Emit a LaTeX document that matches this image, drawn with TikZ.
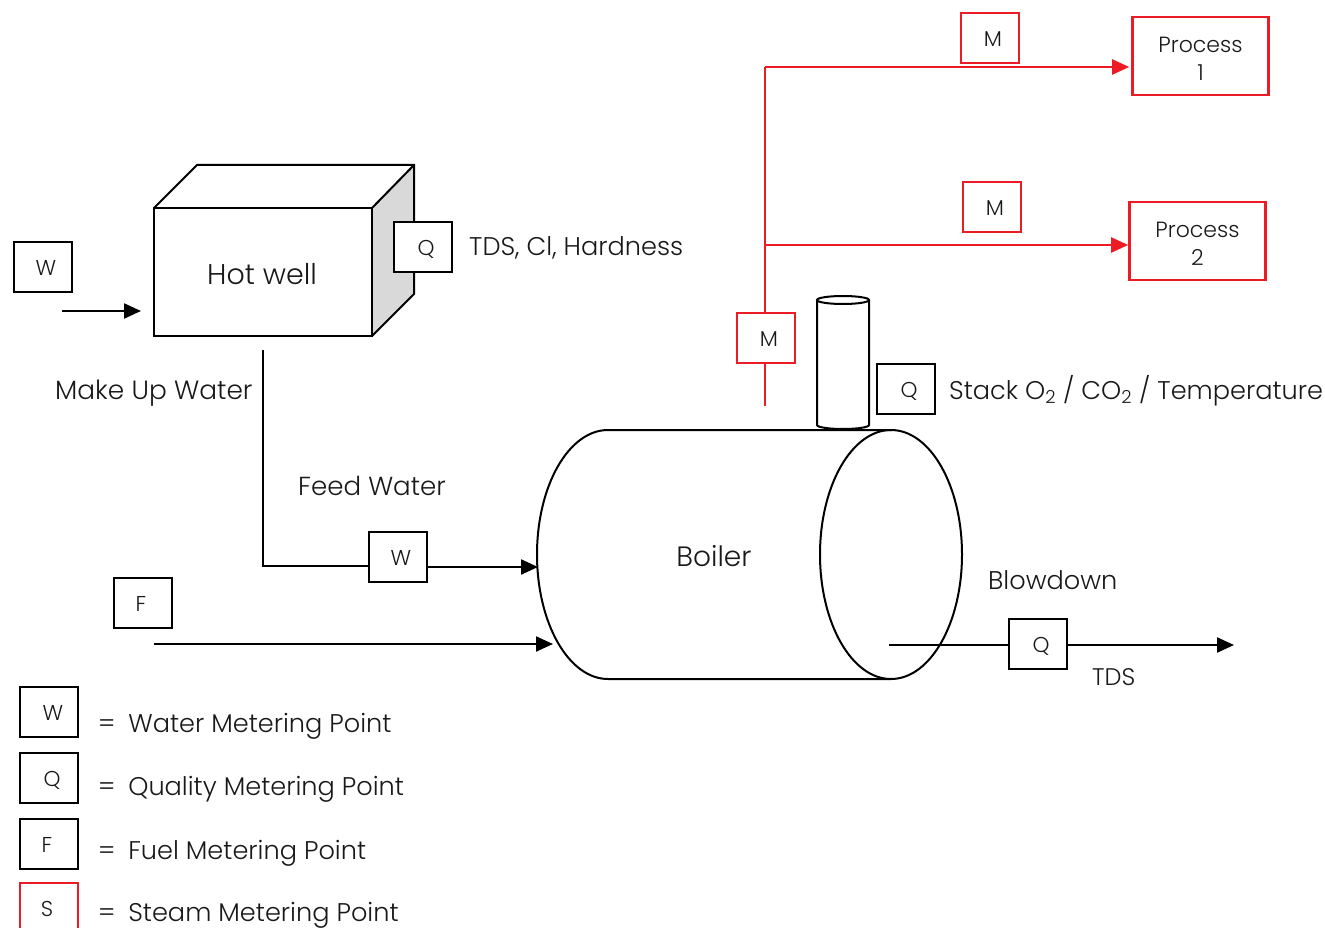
\documentclass[tikz,border=0pt]{standalone}
\usepackage{fontspec}
\setmainfont{Poppins Light}
\usetikzlibrary{positioning, arrows.meta, calc}
\definecolor{steamRed}{RGB}{237,28,36}
\definecolor{sideGrey}{RGB}{217,217,217}
\newcommand{\mpt}[2][3pt]{\raisebox{-8.5pt}[0pt][0pt]{\hspace{2\dimexpr#1\relax}#2}}
\newcommand{\prc}[1]{\raisebox{-3pt}[\height][\depth]{#1}}
\tikzset{
  every node/.style={font=\fontsize{25.6}{30}\selectfont, text=black!90},
  MP/.style={draw=black, line width=2pt, minimum width=58pt, minimum height=50pt, inner sep=0pt, font=\fontsize{21.5}{25}\selectfont},
  MPS/.style={MP, draw=steamRed},
  PROC/.style={draw=steamRed, line width=2.6pt, minimum width=136pt, minimum height=78pt, inner sep=0pt, align=center, font=\fontsize{22}{28}\selectfont},
  LBL/.style={anchor=west, inner sep=0pt},
  AR/.style={-{Triangle[length=17pt,width=15pt]}, line width=2.3pt, black},
  ARS/.style={AR, steamRed},
  SHP/.style={draw=black, line width=2pt},
}
\begin{document}
\begin{tikzpicture}[x=1pt, y=1pt, yscale=-1]
\useasboundingbox (0,0) rectangle (1325,928);

%% Hot well
\fill[sideGrey] (372,208)--(414,165)--(414,294)--(372,336)--cycle;
\draw[SHP] (154,208)--(197,165)--(414,165)--(414,294)--(372,336);
\draw[SHP] (372,208)--(414,165);
\node[SHP, minimum width=218pt, minimum height=128pt, inner sep=0pt] (HW) at (263,272) {};
\node[font=\fontsize{28.5}{32}\selectfont] at (262,274) {Hot well};
\node[MP, fill=white] (QH) at (423,247) {\mpt{Q}};
\node[LBL] (QHL) at (469,247.5) {TDS, Cl, Hardness};

\node[MP] (WM) at (43,267) {\mpt{W}};
\coordinate (WMa) at (62,311);
\coordinate (WMb) at (141,311);
\draw[AR] (WMa) -- (WMb);
\node[LBL, font=\fontsize{26.4}{30}\selectfont] (MUW) at (55,393) {Make Up Water};

%% Boiler
\coordinate (BoTL) at (608,430);
\coordinate (BoBR) at (891,679);
\draw[SHP] (891,430) -- (BoTL) arc[start angle=270, end angle=90, x radius=71, y radius=124.5] -- (BoBR);
\draw[SHP] (891,554.5) ellipse[x radius=71, y radius=124.5];
\node[font=\fontsize{28}{32}\selectfont] (BO) at (714,556) {Boiler};

%% Stack
\draw[SHP] (817,300) -- (817,425) arc[start angle=180, end angle=0, x radius=26, y radius=4] -- (869,300);
\draw[SHP] (843,300) ellipse[x radius=26, y radius=4];
\node[MP] (QS) at (906,389) {\mpt{Q}};
\node[LBL] (QSL) at (949,390.5) {Stack O\textsubscript{2} / CO\textsubscript{2} / Temperature};

%% Feed water
\coordinate (FWa) at (263,350);
\coordinate (FWb) at (263,566);
\coordinate (FWc) at (538,567);
\node[MP, fill=white] (WF) at (398,557) {\mpt{W}};
\draw[SHP] (FWa) -- (FWb) -- (WF.west |- FWb);
\draw[AR] (WF.east |- FWc) -- (FWc);
\node[LBL, font=\fontsize{26.1}{30}\selectfont] (FWL) at (298,485.5) {Feed Water};

%% Fuel
\node[MP] (FM) at (143,603) {\mpt[-2pt]{F}};
\coordinate (Fa) at (154,644);
\coordinate (Fb) at (553,644);
\draw[AR] (Fa) -- (Fb);

%% Blowdown
\node[MP, fill=white] (QB) at (1038,644) {\mpt{Q}};
\coordinate (Ba) at (889,645);
\coordinate (Bb) at (1234,645);
\draw[SHP] (Ba) -- (QB.west |- Ba);
\draw[AR] (QB.east |- Bb) -- (Bb);
\node[LBL] (BDL) at (988,580.5) {Blowdown};
\node[LBL, font=\fontsize{24}{30}\selectfont] (TDS) at (1092,677) {TDS};

%% Steam
\node[PROC] (P1) at (1200.5,56) {\prc{Process}\\\prc{1}};
\node[PROC] (P2) at (1197.5,241) {\prc{Process}\\\prc{2}};
\node[MPS] (M1) at (990,38) {\mpt{M}};
\node[MPS] (M2) at (992,207) {\mpt{M}};
\node[MPS] (M3) at (766,338) {\mpt{M}};
\coordinate (Sa) at (765,406);
\coordinate (Sb) at (765,67);
\coordinate (Sc) at (765,245);
\draw[steamRed, line width=2.3pt] (Sa) -- (M3.south -| Sa);
\draw[steamRed, line width=2.3pt] (M3.north -| Sa) -- (Sb);
\draw[ARS] (Sb) -- ([xshift=-2pt]P1.west |- Sb);
\draw[ARS] (Sc) -- (P2.west |- Sc);

%% Key
\node[MP] (K1) at (49,712) {\mpt[4pt]{W}};
\node[LBL] (K1L) at (98,726) {=\hspace{0.5em}Water Metering Point};
\node[MP] (K2) at (49,778) {\mpt{Q}};
\node[LBL] (K2L) at (98,789) {=\hspace{0.5em}Quality Metering Point};
\node[MP] (K3) at (49,844) {\mpt[-2pt]{F}};
\node[LBL] (K3L) at (98,853) {=\hspace{0.5em}Fuel Metering Point};
\node[MPS] (K4) at (49,908) {\mpt[-2pt]{S}};
\node[LBL] (K4L) at (98,915) {=\hspace{0.5em}Steam Metering Point};
\end{tikzpicture}
\end{document}
